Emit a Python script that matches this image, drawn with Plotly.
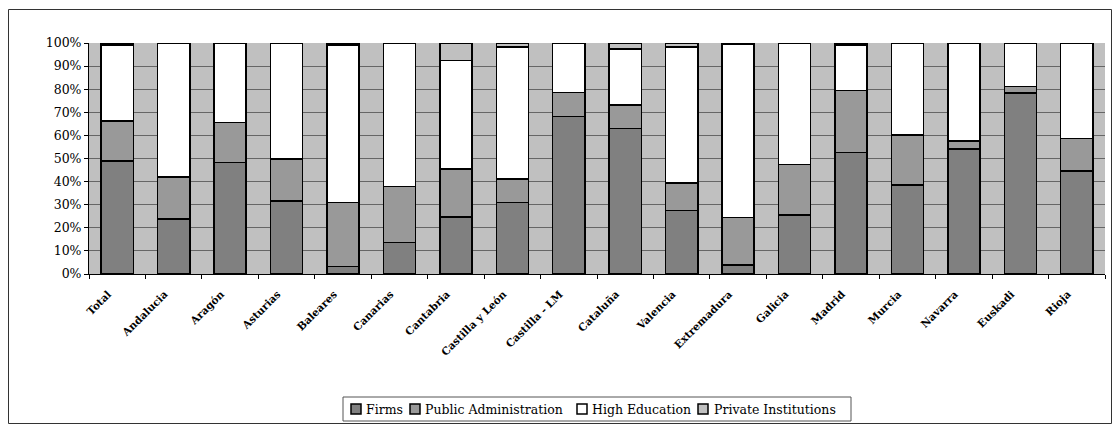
import plotly.graph_objects as go

regions = ["Total", "Andalucia", "Aragón", "Asturias", "Baleares", "Canarias",
           "Cantabria", "Castilla y León", "Castilla - LM", "Cataluña", "Valencia",
           "Extremadura", "Galicia", "Madrid", "Murcia", "Navarra", "Euskadi", "Rioja"]
firms = [49.0, 23.8, 48.2, 31.6, 3.2, 13.6, 24.7, 30.9, 68.1, 62.9, 27.4, 3.9, 25.5, 52.5, 38.5, 54.1, 78.4, 44.6]
public_admin = [17.2, 18.3, 17.3, 18.2, 27.7, 24.2, 20.8, 10.2, 10.4, 10.3, 12.1, 20.6, 22.0, 26.9, 21.7, 3.5, 2.7, 14.1]
high_edu = [32.9, 57.9, 34.5, 50.2, 68.2, 62.2, 46.9, 57.2, 21.5, 24.2, 58.8, 74.8, 52.5, 19.7, 39.8, 42.4, 18.9, 41.3]
private_inst = [0.9, 0.0, 0.0, 0.0, 0.9, 0.0, 7.6, 1.7, 0.0, 2.6, 1.7, 0.7, 0.0, 0.9, 0.0, 0.0, 0.0, 0.0]

series_names = ["Firms", "Public Administration", "High Education", "Private Institutions"]
series_values = [firms, public_admin, high_edu, private_inst]
series_colors = ["#808080", "#999999", "#FFFFFF", "#C0C0C0"]

FONT = "DejaVu Serif"

# page-pixel geometry of the plot area (page body adds an 8px offset)
OFF = 8
PX_L, PX_R, PX_T, PX_B = 89, 1105, 43, 274
W, H = 1120 - 2 * OFF, 432 - 2 * OFF


def px(x):
    return (x - PX_L) / (PX_R - PX_L)


def py(y):
    return (PX_B - y) / (PX_B - PX_T)


fig = go.Figure()
for name, vals, col in zip(series_names, series_values, series_colors):
    fig.add_trace(go.Bar(x=regions, y=vals, name=name, showlegend=False,
                         marker=dict(color=col, line=dict(color="black", width=1.5))))

shapes = [dict(type="rect", xref="paper", yref="paper",
               x0=px(8.5), x1=px(1111.5), y0=py(423.5), y1=py(9.5),
               line=dict(color="#333333", width=1), layer="below"),
          dict(type="rect", xref="paper", yref="paper",
               x0=px(343), x1=px(851), y0=py(421), y1=py(397),
               line=dict(color="#555555", width=1), fillcolor="white", layer="below")]
annotations = []
legend_sq = [351, 410, 577, 698]
legend_tx = [365, 424, 591, 713]
for name, col, sx, tx in zip(series_names, series_colors, legend_sq, legend_tx):
    shapes.append(dict(type="rect", xref="paper", yref="paper",
                       x0=px(sx), x1=px(sx + 10), y0=py(414), y1=py(404),
                       line=dict(color="black", width=1.5), fillcolor=col))
    annotations.append(dict(text=name, xref="paper", yref="paper", x=px(tx - 1), y=py(409.5),
                            xanchor="left", yanchor="middle", showarrow=False,
                            font=dict(family=FONT, size=12.5, color="black")))

fig.update_layout(
    barmode="stack", bargap=0.43,
    width=W, height=H,
    margin=dict(l=PX_L - OFF, r=(W + OFF) - PX_R, t=PX_T - OFF, b=(H + OFF) - PX_B),
    paper_bgcolor="white", plot_bgcolor="#C0C0C0",
    font=dict(family=FONT, size=11, color="black"),
    shapes=shapes, annotations=annotations,
)
fig.update_xaxes(showline=True, linecolor="black", linewidth=1, automargin=False,
                 ticks="outside", tickson="boundaries", ticklen=4, tickcolor="black",
                 tickangle=-45, showgrid=False, ticklabelstandoff=9, ticklabelshift=-9,
                 tickfont=dict(family=FONT, size=10.5, weight="bold"))
fig.update_yaxes(range=[0, 100], dtick=10, ticksuffix="%", showline=True, automargin=False,
                 linecolor="black", linewidth=1, ticks="outside", ticklen=4,
                 tickcolor="black", showgrid=True, gridcolor="#666666", gridwidth=1,
                 zeroline=False, tickfont=dict(family=FONT, size=12.5))

fig.write_html("out.html")
